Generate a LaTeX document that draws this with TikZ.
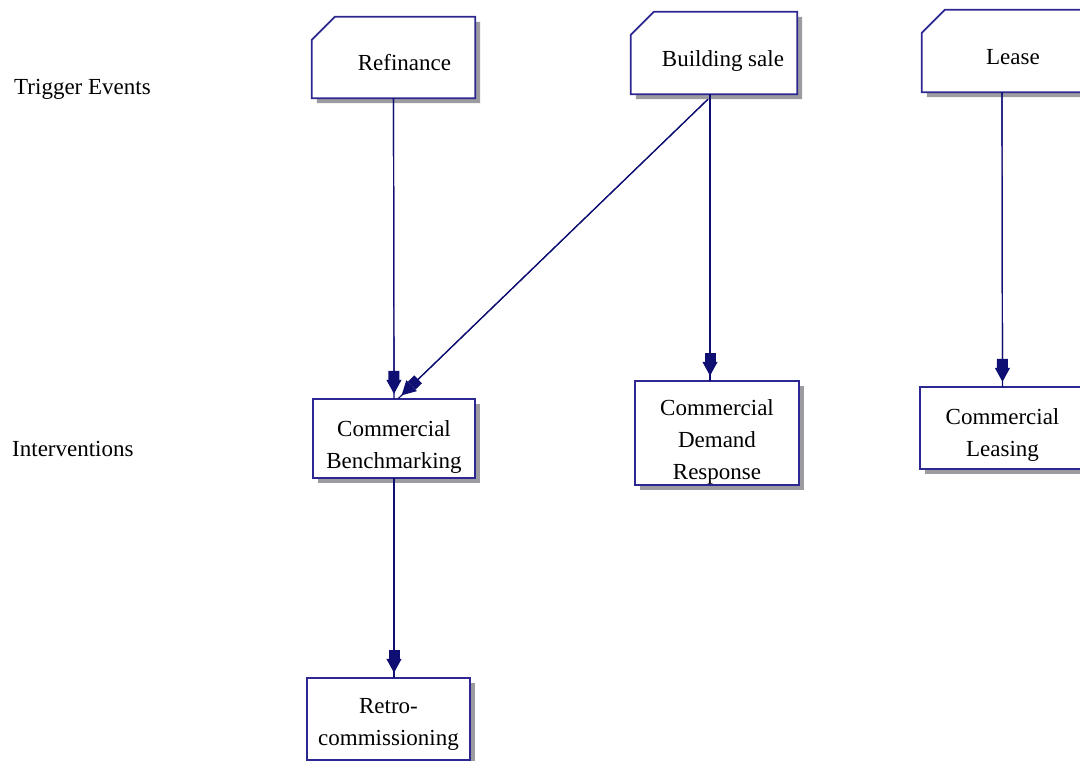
\documentclass[tikz,border=0pt]{standalone}
\usepackage{fontspec}
\setmainfont{Liberation Serif}
\usetikzlibrary{arrows.meta,backgrounds}

\definecolor{boxline}{RGB}{45,40,145}
\definecolor{arrowcol}{RGB}{15,15,115}
\definecolor{shadowgray}{RGB}{155,155,160}

% invisible strut that lowers a box's text a little
\newcommand\lowerby[1]{\rule{0pt}{\dimexpr 21pt+2\dimexpr #1\relax\relax}}

\tikzset{
  every node/.style={font=\fontsize{23}{32}\selectfont},
  event/.style={rectangle, inner sep=0pt, minimum width=164pt, minimum height=82pt},
  action/.style={rectangle, inner sep=0pt, align=center, minimum width=164pt, minimum height=81pt},
  rowlabel/.style={anchor=west, inner sep=0pt},
  wire/.style={draw=arrowcol, line width=1.2pt},
  tip/.style={draw=arrowcol, line width=1.2pt, shorten >=5pt,
    -{Rectangle[length=9pt,width=11pt,fill=arrowcol] Triangle[length=14pt,width=15pt,fill=arrowcol]}},
}

% outline of a box whose upper left corner is cut off, with its shadow
\newcommand\cutbox[1]{%
  \fill[shadowgray] ([shift={(5,5)}]#1.south west) -- ([shift={(5,28)}]#1.north west)
    -- ([shift={(28,5)}]#1.north west) -- ([shift={(5,5)}]#1.north east)
    -- ([shift={(5,5)}]#1.south east) -- cycle;
  \draw[boxline, line width=1.7pt, fill=white] (#1.south west) -- ([shift={(0,23)}]#1.north west)
    -- ([shift={(23,0)}]#1.north west) -- (#1.north east) -- (#1.south east) -- cycle;}
% plain box with drop shadow
\newcommand\plainbox[1]{%
  \fill[shadowgray] ([shift={(5,5)}]#1.south west) rectangle ([shift={(5,5)}]#1.north east);
  \draw[boxline, line width=1.7pt, fill=white] (#1.south west) rectangle (#1.north east);}
% connector: line to the box edge, arrow tip just short of it
\newcommand\link[2]{\draw[wire] #1 -- #2; \draw[tip] #1 -- #2;}

\begin{document}
\begin{tikzpicture}[x=1pt, y=-1pt]
\useasboundingbox (0,0) rectangle (1080,761);

% row labels
\node[rowlabel] (trig) at (14,89) {Trigger Events};
\node[rowlabel] (inter) at (12,449) {Interventions};

% trigger events
\node[event, minimum width=163pt, minimum height=81pt] (ref) at (393.5,57.5) {\lowerby{3pt}\hspace*{22pt}Refinance};
\node[event, minimum width=166pt] (bsale) at (714,53) {\lowerby{5pt}\hspace*{18pt}Building sale};
\node[event, minimum width=165pt] (lease) at (1004.5,51) {\lowerby{3pt}\hspace*{17pt}Lease};

% interventions
\node[action, minimum width=162pt, minimum height=79pt] (bench) at (394,438.5) {\lowerby{6pt}Commercial\\Benchmarking};
\node[action, minimum height=104pt] (cdr) at (717,433) {\lowerby{6pt}Commercial\\Demand\\Response};
\node[action, minimum width=165pt, minimum height=82pt] (cl) at (1002.5,428) {\lowerby{4pt}Commercial\\Leasing};
\node[action, minimum width=163pt, minimum height=82pt] (retro) at (388.5,719) {\lowerby{2pt}Retro-\\commissioning};

\begin{scope}[on background layer]
  \cutbox{ref}
  \cutbox{bsale}
  \cutbox{lease}
  \plainbox{bench}
  \plainbox{cdr}
  \plainbox{cl}
  \plainbox{retro}
\end{scope}

% connectors
\link{(ref.south)}{(bench.north)}
\link{([xshift=-4pt]bsale.south)}{([xshift=-7pt]cdr.north)}
\link{([xshift=-6pt,yshift=-5pt]bsale.south)}{([xshift=4pt]bench.north)}
\link{([xshift=-2.5pt]lease.south)}{(cl.north)}
\link{(bench.south)}{(bench.south |- retro.north)}
\end{tikzpicture}
\end{document}
